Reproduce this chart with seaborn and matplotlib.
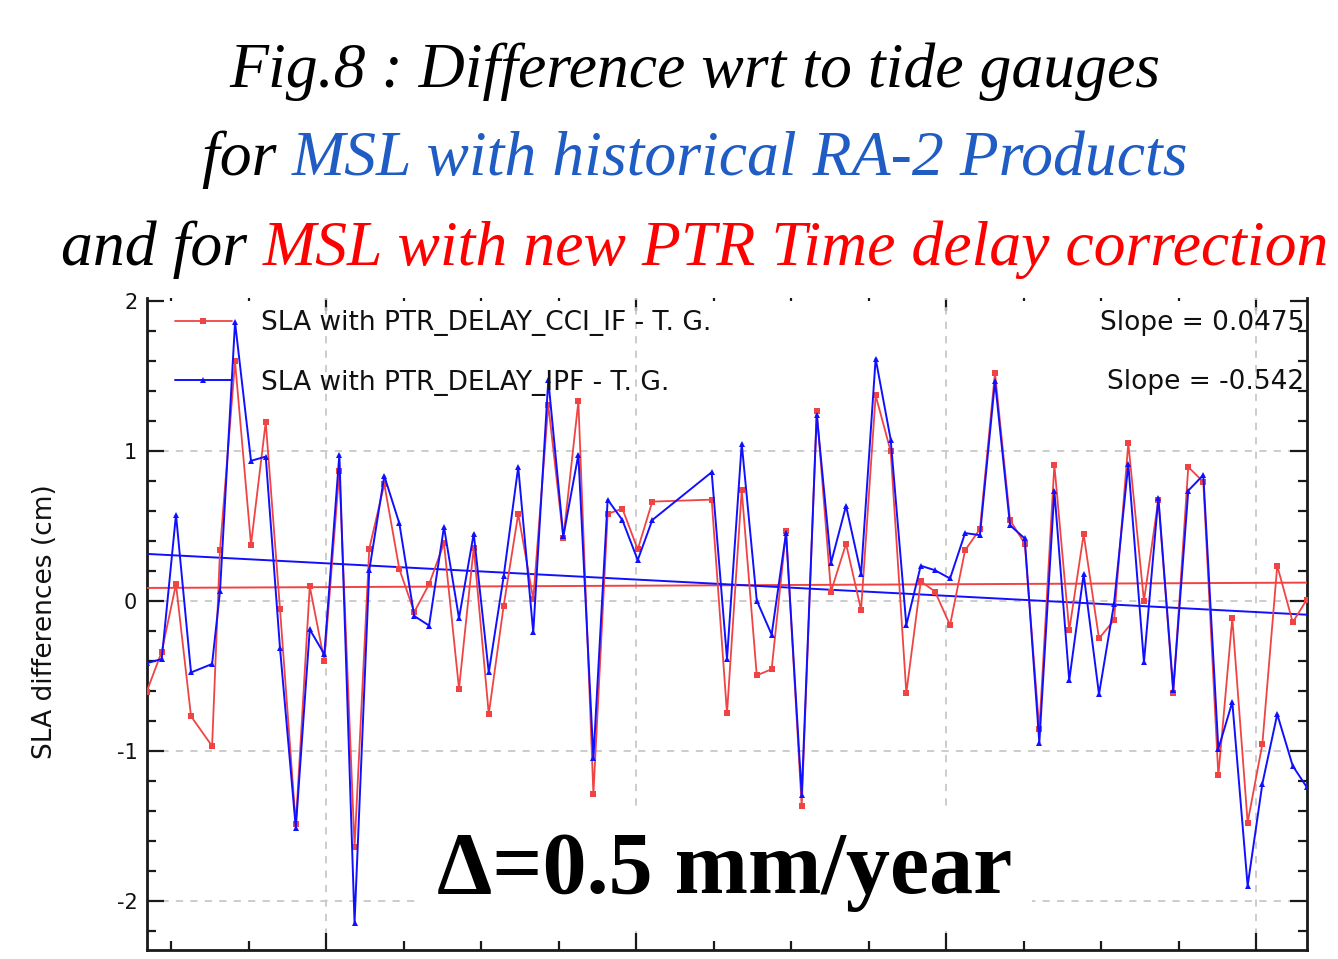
import numpy as np
import pandas as pd
import matplotlib
matplotlib.use("Agg")
import matplotlib.pyplot as plt
import seaborn as sns
from matplotlib.ticker import MultipleLocator, NullFormatter

# ---------------- data ----------------
time_year = [
    2002.843, 2002.940, 2003.032, 2003.129, 2003.265, 2003.316, 2003.413, 2003.516,
    2003.611, 2003.703, 2003.805, 2003.895, 2003.989, 2004.086, 2004.184, 2004.279,
    2004.376, 2004.473, 2004.569, 2004.665, 2004.761, 2004.858, 2004.953, 2005.050,
    2005.146, 2005.240, 2005.337, 2005.434, 2005.531, 2005.628, 2005.725, 2005.817,
    2005.912, 2006.011, 2006.105, 2006.488, 2006.587, 2006.682, 2006.779, 2006.875,
    2006.968, 2007.069, 2007.166, 2007.258, 2007.355, 2007.452, 2007.546, 2007.643,
    2007.744, 2007.837, 2007.929, 2008.026, 2008.123, 2008.219, 2008.316, 2008.413,
    2008.508, 2008.602, 2008.699, 2008.795, 2008.888, 2008.987, 2009.084, 2009.176,
    2009.277, 2009.370, 2009.466, 2009.563, 2009.660, 2009.757, 2009.847, 2009.946,
    2010.041, 2010.137, 2010.237, 2010.327,
]
sla_cci_if = [
    -0.605, -0.338, 0.112, -0.769, -0.968, 0.341, 1.598, 0.376,
    1.194, -0.052, -1.490, 0.098, -0.400, 0.867, -1.642, 0.349,
    0.780, 0.213, -0.074, 0.112, 0.385, -0.586, 0.355, -0.755,
    -0.033, 0.581, 0.012, 1.309, 0.417, 1.331, -1.287, 0.581,
    0.616, 0.344, 0.663, 0.676, -0.750, 0.739, -0.496, -0.455,
    0.466, -1.370, 1.268, 0.063, 0.382, -0.060, 1.372, 0.998,
    -0.614, 0.131, 0.063, -0.161, 0.338, 0.480, 1.522, 0.540,
    0.382, -0.856, 0.908, -0.196, 0.445, -0.250, -0.128, 1.053,
    0.000, 0.676, -0.614, 0.894, 0.794, -1.164, -0.115, -1.478,
    -0.954, 0.235, -0.142, 0.008,
]
sla_ipf = [
    -0.415, -0.387, 0.575, -0.477, -0.420, 0.065, 1.860, 0.935,
    0.963, -0.314, -1.513, -0.190, -0.355, 0.976, -2.146, 0.205,
    0.834, 0.518, -0.100, -0.164, 0.494, -0.115, 0.450, -0.477,
    0.164, 0.894, -0.210, 1.475, 0.431, 0.976, -1.050, 0.676,
    0.540, 0.273, 0.540, 0.859, -0.387, 1.050, 0.003, -0.224,
    0.453, -1.295, 1.243, 0.254, 0.635, 0.180, 1.617, 1.077,
    -0.161, 0.235, 0.205, 0.150, 0.453, 0.439, 1.467, 0.505,
    0.417, -0.946, 0.736, -0.529, 0.180, -0.622, -0.019, 0.914,
    -0.409, 0.690, -0.592, 0.736, 0.840, -0.987, -0.674, -1.900,
    -1.219, -0.755, -1.100, -1.241,
]
series_labels = ["SLA with PTR_DELAY_CCI_IF - T. G.", "SLA with PTR_DELAY_IPF - T. G."]
trend_slope_mm_per_year = [0.0475, -0.542]
trend_start_cm = [0.087, 0.314]
slope_labels = ["Slope = 0.0475", "Slope = -0.542"]
y_ticks = [-2, -1, 0, 1, 2]
y_tick_labels = ["-2", "-1", "0", "1", "2"]
x_major_ticks = [2004, 2006, 2008, 2010]
y_label = "SLA differences (cm)"
annotation = "\u0394=0.5 mm/year"
title_lines = [
    [("Fig.8 : Difference wrt to tide gauges", "black")],
    [("for ", "black"), ("MSL with historical RA-2 Products", "#1f5cc4")],
    [("and for ", "black"), ("MSL with new PTR Time delay correction", "#ff0000")],
]

# ---------------- figure ----------------
W, H = 1338, 959
sns.set_style("ticks")
plt.rcParams["font.family"] = ["DejaVu Sans"]
fig = plt.figure(figsize=(W / 100, H / 100), dpi=100)
ax = fig.add_axes([147 / W, 1 - 950 / H, 1160 / W, 652 / H])

red_line = "#f04444"
blue_line = "#1010ff"

df = pd.DataFrame({"t": time_year, "cci": sla_cci_if, "ipf": sla_ipf})
sns.lineplot(data=df, x="t", y="cci", ax=ax, color=red_line, lw=1.3, marker="s",
             markersize=4.8, markeredgewidth=0, label=series_labels[0], zorder=3, sort=False)
sns.lineplot(data=df, x="t", y="ipf", ax=ax, color=blue_line, lw=1.4, marker="^",
             markersize=4.8, markeredgewidth=0, label=series_labels[1], zorder=4, sort=False)

xlim = (2002.845, 2010.329)
t_tr = np.array(xlim)
for s, c0, col in zip(trend_slope_mm_per_year, trend_start_cm, [red_line, blue_line]):
    y_tr = c0 + s / 10.0 * (t_tr - xlim[0])
    sns.lineplot(x=t_tr, y=y_tr, ax=ax, color=col, lw=1.4, zorder=2.8)

ax.set_xlim(*xlim)
ax.set_ylim(-2.328, 2.021)
ax.set_xlabel("")
ax.set_ylabel("")

# grid
grid_kw = dict(color="#c8c8c8", lw=1.3, ls=(0, (4, 4)), zorder=0.5)
for yv in [-2, -1, 0, 1]:
    ax.axhline(yv, **grid_kw)
for xv in x_major_ticks:
    ax.axvline(xv, **grid_kw)

# ticks
ax.set_xticks(x_major_ticks)
ax.xaxis.set_major_formatter(NullFormatter())
ax.xaxis.set_minor_locator(MultipleLocator(0.5))
ax.set_yticks(y_ticks, y_tick_labels)
ax.yaxis.set_minor_locator(MultipleLocator(0.2))
ax.tick_params(which="both", direction="in", top=False, right=True, color="#1a1a1a", width=1.6)
ax.tick_params(which="major", length=12.5, labelsize=15, pad=7, labelcolor="#111111")
ax.tick_params(which="minor", length=6.5)
ax.tick_params(axis="x", labelbottom=False)
for side in ["left", "right", "bottom"]:
    ax.spines[side].set_linewidth(2.0)
    ax.spines[side].set_color("#1a1a1a")
ax.spines["top"].set_visible(False)

sec = ax.secondary_xaxis("top")
sec.set_xticks(x_major_ticks)
sec.xaxis.set_major_formatter(NullFormatter())
sec.xaxis.set_minor_locator(MultipleLocator(0.5))
sec.tick_params(which="both", direction="in", color="#1a1a1a", width=1.6)
sec.tick_params(which="major", length=9)
sec.tick_params(which="minor", length=2.5)
sec.spines["top"].set_visible(False)

# legend
handles, labels = ax.get_legend_handles_labels()
leg = ax.legend(handles[:2], labels[:2], loc="upper left", bbox_to_anchor=(0.0241, 0.9816),
                frameon=False, fontsize=19, handlelength=2.15, handletextpad=1.1,
                labelspacing=1.27, borderaxespad=0, borderpad=0)
for t in leg.get_texts():
    t.set_color("#111111")

row_y = [0.9617, 0.871]
for s, yy in zip(slope_labels, row_y):
    ax.text(0.9975, yy, s, transform=ax.transAxes, ha="right", va="center",
            fontsize=19, color="#111111")

# y label
fig.text(45 / W, 1 - 622 / H, y_label, rotation=90, ha="center", va="center",
         fontsize=19, color="#111111")

# ---------------- title (mixed colours) ----------------
fig.canvas.draw()
renderer = fig.canvas.get_renderer()
title_kw = dict(family="Liberation Serif", style="italic")


def width_of(s, size, **kw):
    t = fig.text(0, 0, s, fontsize=size, **kw)
    w = t.get_window_extent(renderer=renderer).width
    t.remove()
    return w


def prefix_width(s, size, **kw):
    return width_of(s + "|", size, **kw) - width_of("|", size, **kw)


line3 = "".join(p for p, _ in title_lines[2])
base_size = 40.0
title_size = base_size * 1266.0 / width_of(line3, base_size, **title_kw)

baselines = [87, 175, 265]
center_px = 695
for parts, yb in zip(title_lines, baselines):
    full = "".join(p for p, _ in parts)
    total = width_of(full, title_size, **title_kw)
    x0 = center_px - total / 2
    prefix = ""
    for p, col in parts:
        off = prefix_width(prefix, title_size, **title_kw) if prefix else 0.0
        fig.text((x0 + off) / W, 1 - yb / H, p, fontsize=title_size, color=col,
                 va="baseline", ha="left", **title_kw)
        prefix += p

# ---------------- annotation ----------------
ann_kw = dict(family="Liberation Serif", weight="bold")
ann_size = 60.0 * 575.0 / width_of(annotation, 60.0, **ann_kw)
ax.text(724.5 / W, 1 - 893 / H, annotation, transform=fig.transFigure, fontsize=ann_size,
        ha="center", va="baseline", color="black", zorder=2.6,
        bbox=dict(facecolor="white", edgecolor="none", boxstyle="square,pad=0.22"), **ann_kw)

fig.savefig("out.png", dpi=100)
